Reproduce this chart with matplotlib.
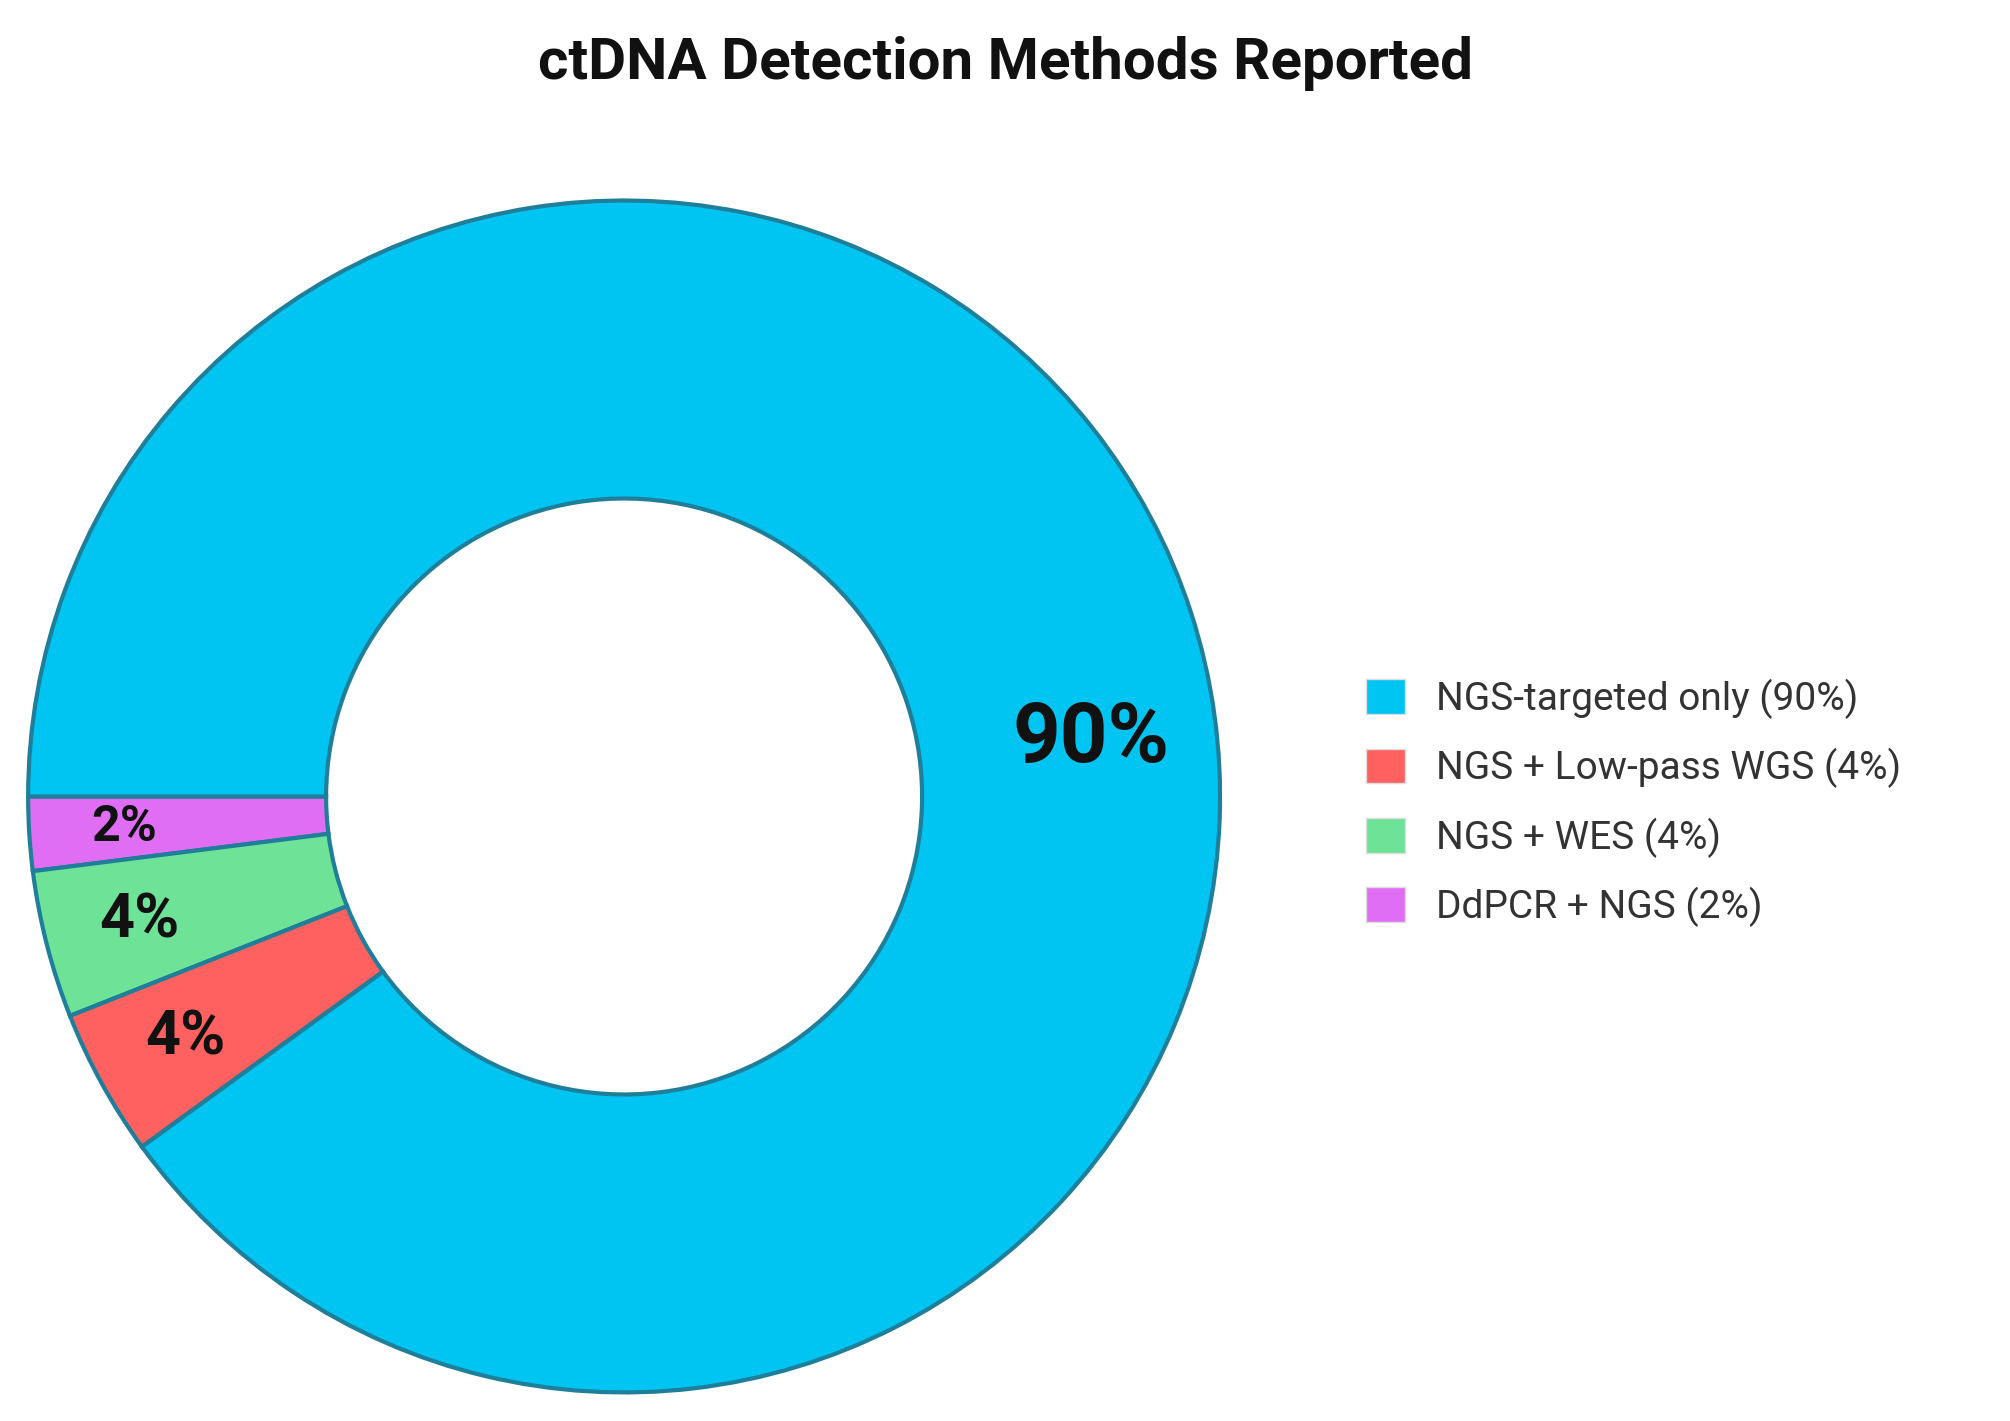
import matplotlib
matplotlib.use("Agg")
import matplotlib.pyplot as plt
import numpy as np
from matplotlib.patches import Patch

plt.rcParams['font.family'] = ['Roboto', 'DejaVu Sans']

categories = ["DdPCR + NGS", "NGS + WES", "NGS + Low-pass WGS", "NGS-targeted only"]
values = [2, 4, 4, 90]
colors = ["#E06EF5", "#6EE398", "#FF6060", "#00C5F2"]
legend_order = [3, 2, 1, 0]

fig = plt.figure(figsize=(20.1, 14.21), dpi=100)
ax = fig.add_axes([0.014, 0.02, 0.593, 0.839])
wedges, _ = ax.pie(values, colors=colors, startangle=180, counterclock=True,
                   radius=1.0, wedgeprops=dict(width=0.5, edgecolor="#1F7E99", linewidth=3))
ax.set_aspect('equal')
ax.set_xlim(-1.0, 1.0)
ax.set_ylim(-1.0, 1.0)

sizes = [36, 44, 44, 60]
for i, w in enumerate(wedges):
    if values[i] >= 50:
        ang, r = 7, 0.79
    else:
        ang, r = (w.theta1 + w.theta2) / 2, 0.84
    x, y = r * np.cos(np.deg2rad(ang)), r * np.sin(np.deg2rad(ang))
    ax.text(x, y, f"{values[i]}%", ha='center', va='center', fontsize=sizes[i],
            fontweight='bold', color='#111111')

handles = [Patch(facecolor=colors[i], edgecolor='#dddddd', label=f"{categories[i]} ({values[i]}%)")
           for i in legend_order]
fig.legend(handles=handles, loc='center left', bbox_to_anchor=(0.662, 0.435), frameon=False,
           fontsize=28, handlelength=1.0, handleheight=1.0, handletextpad=0.8, labelspacing=0.75,
           labelcolor='#333333')

fig.text(0.5, 0.955, "ctDNA Detection Methods Reported", ha='center', va='center',
         fontsize=42, fontweight='bold', color='#111111')
fig.savefig("out.png", dpi=100)
